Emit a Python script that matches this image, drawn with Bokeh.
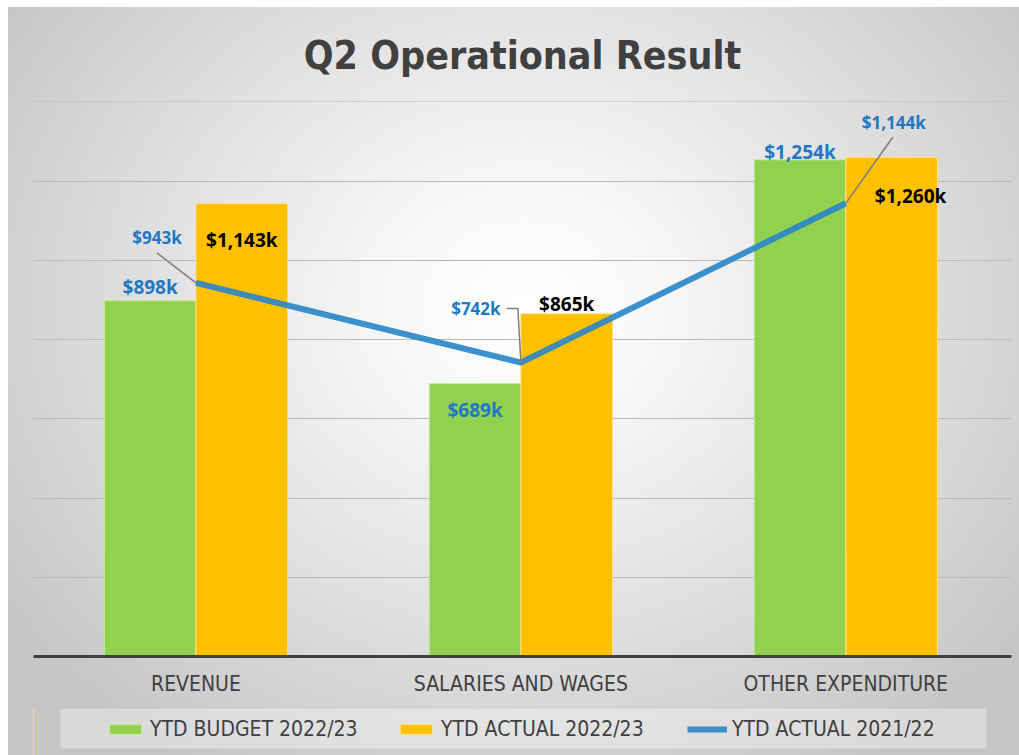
from bokeh.plotting import figure
from bokeh.layouts import column
from bokeh.models import Range1d, FixedTicker, Legend, LegendItem, BoxAnnotation
from bokeh.core.properties import value
from bokeh.embed import file_html
from bokeh.resources import INLINE

# ---------------- data ----------------
categories = ["REVENUE", "SALARIES AND WAGES", "OTHER EXPENDITURE"]
budget_2223 = [898, 689, 1254]
actual_2223 = [1143, 865, 1260]
actual_2122 = [943, 742, 1144]
series_names = ["YTD BUDGET 2022/23", "YTD ACTUAL 2022/23", "YTD ACTUAL 2021/22"]
grid_values = [200, 400, 600, 800, 1000, 1200, 1400]

# ---------------- layout ----------------
W, H = 1011, 701
ML, MR, MT, MB = 25, 8, 94, 52
FRAME_W = W - ML - MR
FRAME_H = H - MT - MB
Y_MAX = 1401
X0, X1 = -0.5, 2.51
px_x = (X1 - X0) / FRAME_W      # data units per pixel, x
px_y = Y_MAX / FRAME_H          # data units per pixel, y
BAR_W = 0.282
DODGE = BAR_W / 2
LEG_H = 47

GREEN = "#92D050"
YELLOW = "#FFC000"
BLUE_LINE = "#2b87c8"
BLUE_TXT = "#1f78c4"
DARK = "#404040"
NARROW = "Liberation Sans Narrow, DejaVu Sans Condensed, Roboto, sans-serif"
LBLFONT = "Open Sans"

p = figure(width=W, height=H, output_backend="svg",
           toolbar_location=None, tools="",
           x_range=Range1d(X0, X1), y_range=Range1d(0, Y_MAX),
           min_border_left=ML, min_border_right=MR, min_border_top=MT,
           min_border_bottom=MB)
p.border_fill_alpha = 0
p.background_fill_alpha = 0
p.outline_line_color = None

# title
p.title.text = "Q2 Operational Result"
p.title.align = "center"
p.title.text_font = NARROW
p.title.text_font_style = "bold"
p.title.text_font_size = "39px"
p.title.text_color = DARK
p.title.standoff = 47

# axes / grid
p.yaxis.visible = False
p.ygrid.ticker = FixedTicker(ticks=grid_values)
p.ygrid.grid_line_color = "#bababa"
p.ygrid.grid_line_width = 1
p.xgrid.visible = False

idx = list(range(len(categories)))
p.xaxis.ticker = FixedTicker(ticks=idx)
p.xaxis.major_label_overrides = {i: c for i, c in zip(idx, categories)}
p.xaxis.axis_line_color = DARK
p.xaxis.axis_line_width = 3
p.xaxis.major_tick_line_color = None
p.xaxis.minor_tick_line_color = None
p.xaxis.major_tick_out = 0
p.xaxis.major_label_standoff = 15
p.xaxis.major_label_text_font = NARROW
p.xaxis.major_label_text_font_size = "21px"
p.xaxis.major_label_text_color = DARK

# bars
xb = [i - DODGE for i in idx]
xa = [i + DODGE for i in idx]
bar_b = dict(fill_color=GREEN, line_color="#c8ec9a", line_width=1)
bar_a = dict(fill_color=YELLOW, line_color="#ffe08a", line_width=1)
line_s = dict(line_color=BLUE_LINE, line_width=6, line_alpha=0.92)
p.vbar(x=xb, top=budget_2223, bottom=0, width=BAR_W, **bar_b)
p.vbar(x=xa, top=actual_2223, bottom=0, width=BAR_W, **bar_a)

# line
p.line(x=idx, y=actual_2122, **line_s)

def fmt(v):
    return "${:,}k".format(v)

# bar labels (screen offsets; positive y = down)
b_off = [(0, -14), (0, 26), (0, -8)]
a_off = [(0, 36), (0, -10), (19, 39)]
p.text(x=xb, y=budget_2223, text=[fmt(v) for v in budget_2223],
       x_offset=[o[0] for o in b_off], y_offset=[o[1] for o in b_off],
       text_font=value(LBLFONT), text_font_style="bold", text_font_size="19px",
       text_color=BLUE_TXT, text_align="center", text_baseline="middle")
p.text(x=xa, y=actual_2223, text=[fmt(v) for v in actual_2223],
       x_offset=[o[0] for o in a_off], y_offset=[o[1] for o in a_off],
       text_font=value(LBLFONT), text_font_style="bold", text_font_size="19px",
       text_color="#000000", text_align="center", text_baseline="middle")

# line labels with leader lines
l_off = [(-39, -45), (-45, -54), (48, -81)]
p.text(x=idx, y=actual_2122, text=[fmt(v) for v in actual_2122],
       x_offset=[o[0] for o in l_off], y_offset=[o[1] for o in l_off],
       text_font=value(LBLFONT), text_font_style="bold", text_font_size="17px",
       text_color=BLUE_TXT, text_align="center", text_baseline="middle")

# leader paths, offsets in pixels from the line vertex
leader_px = [
    [(-39, -30), (0, 0)],
    [(-14, -54), (-3, -54), (0, 0)],
    [(47, -66), (0, 0)],
]
xs, ys = [], []
for i, path in enumerate(leader_px):
    xs.append([idx[i] + dx * px_x for dx, dy in path])
    ys.append([actual_2122[i] - dy * px_y for dx, dy in path])
p.multi_line(xs=xs, ys=ys, line_color="#7f7f7f", line_width=1.5)

# ---------------- legend strip ----------------
# frame is aligned with the main chart's frame; x data units = canvas pixels
q = figure(width=W, height=LEG_H, output_backend="svg", toolbar_location=None, tools="",
           x_range=Range1d(ML, W - MR), y_range=Range1d(0, LEG_H),
           x_axis_location=None, y_axis_location=None,
           min_border_left=ML, min_border_right=MR, min_border_top=0, min_border_bottom=0)
q.border_fill_alpha = 0
q.background_fill_alpha = 0
q.outline_line_color = None
q.grid.visible = False
q.add_layout(BoxAnnotation(left=52, right=978, bottom=7, top=LEG_H,
                           fill_color="#ffffff", fill_alpha=0.35, line_color=None))
# legend proxies carrying the series (they fall outside this strip's visible range)
lb = q.vbar(x=xb, top=budget_2223, width=BAR_W, **bar_b)
la = q.vbar(x=xa, top=actual_2223, width=BAR_W, **bar_a)
ll = q.line(x=idx, y=actual_2122, **line_s)
legend = Legend(items=[LegendItem(label=series_names[0], renderers=[lb]),
                       LegendItem(label=series_names[1], renderers=[la]),
                       LegendItem(label=series_names[2], renderers=[ll])],
                orientation="horizontal", location=(97 - ML, 14))
legend.glyph_width = 40
legend.glyph_height = 12
legend.label_standoff = 5
legend.label_width = 210
legend.spacing = 36
legend.padding = 0
legend.margin = 0
legend.label_text_font = NARROW
legend.label_text_font_size = "21px"
legend.label_text_color = DARK
legend.background_fill_alpha = 0
legend.border_line_color = None
q.add_layout(legend, "center")

layout = column(p, q, spacing=0, styles={
    "margin-left": "8px",
    "margin-top": "7px",
    "background": "radial-gradient(ellipse 62% 72% at 51% 40%, #ffffff 0%, #f7f7f7 22%, #e0e0e0 60%, #c6c6c6 100%)",
})

open("out.html", "w").write(file_html(layout, INLINE))
